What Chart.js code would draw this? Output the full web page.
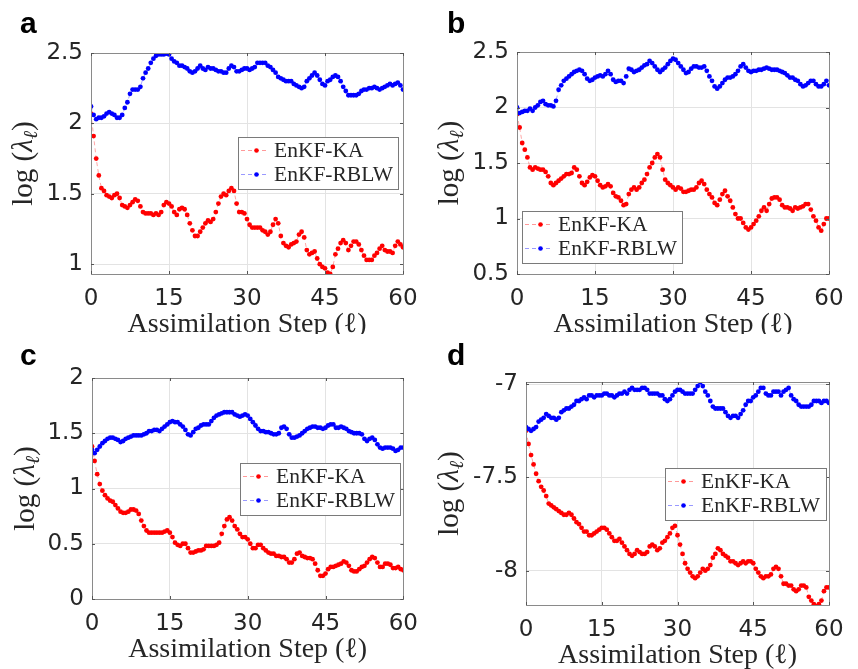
<!DOCTYPE html>
<html>
<head>
<meta charset="utf-8">
<script src="https://cdn.jsdelivr.net/npm/chart.js@4.4.1/dist/chart.umd.min.js"></script>
<style>
  html, body { margin: 0; padding: 0; background: #fff; }
  body { width: 858px; height: 669px; position: relative; overflow: hidden; }
  canvas { position: absolute; }
</style>
</head>
<body>
<canvas id="panelA" width="429" height="334" style="left:0;top:0"></canvas>
<canvas id="panelB" width="429" height="334" style="left:429px;top:0"></canvas>
<canvas id="panelC" width="429" height="335" style="left:0;top:334px"></canvas>
<canvas id="panelD" width="429" height="335" style="left:429px;top:334px"></canvas>
<script>
// --- Datos (un valor cada medio paso) ---
const seriesNames = ["EnKF-KA", "EnKF-RBLW"];
const xTicks = [0, 15, 30, 45, 60];
const steps = Array.from({ length: 121 }, (_, i) => i / 2);

const redA = [
  2.07, 1.91, 1.75, 1.63, 1.54, 1.52, 1.49, 1.48, 1.47, 1.49,
  1.50, 1.47, 1.42, 1.41, 1.40, 1.42, 1.44, 1.46, 1.45, 1.41,
  1.37, 1.36, 1.36, 1.36, 1.35, 1.36, 1.35, 1.37, 1.42, 1.44,
  1.43, 1.41, 1.37, 1.35, 1.39, 1.40, 1.39, 1.35, 1.29, 1.24,
  1.20, 1.20, 1.23, 1.26, 1.29, 1.31, 1.30, 1.32, 1.37, 1.43,
  1.48, 1.50, 1.49, 1.52, 1.54, 1.52, 1.43, 1.37, 1.37, 1.36,
  1.32, 1.28, 1.26, 1.26, 1.26, 1.26, 1.24, 1.23, 1.21, 1.23,
  1.28, 1.32, 1.29, 1.20, 1.15, 1.13, 1.12, 1.14, 1.15, 1.16,
  1.21, 1.23, 1.19, 1.10, 1.07, 1.08, 1.09, 1.04, 1.00, 0.98,
  0.97, 0.94, 0.93, 0.98, 1.07, 1.11, 1.15, 1.17, 1.15, 1.10,
  1.13, 1.16, 1.16, 1.14, 1.10, 1.06, 1.03, 1.03, 1.03, 1.06,
  1.08, 1.11, 1.13, 1.10, 1.09, 1.09, 1.08, 1.13, 1.16, 1.14, 1.12
];
const blueA = [
  2.12, 2.06, 2.03, 2.04, 2.04, 2.05, 2.07, 2.08, 2.07, 2.06,
  2.04, 2.04, 2.06, 2.11, 2.15, 2.21, 2.24, 2.24, 2.24, 2.26,
  2.32, 2.36, 2.39, 2.43, 2.46, 2.48, 2.49, 2.49, 2.49, 2.495,
  2.49, 2.46, 2.44, 2.43, 2.41, 2.41, 2.40, 2.39, 2.37, 2.36,
  2.37, 2.39, 2.41, 2.39, 2.38, 2.40, 2.39, 2.39, 2.38, 2.37,
  2.37, 2.36, 2.36, 2.39, 2.41, 2.40, 2.37, 2.37, 2.38, 2.39,
  2.39, 2.38, 2.39, 2.40, 2.43, 2.43, 2.43, 2.43, 2.41, 2.40,
  2.38, 2.36, 2.33, 2.32, 2.31, 2.30, 2.30, 2.30, 2.28, 2.27,
  2.26, 2.25, 2.26, 2.30, 2.32, 2.34, 2.36, 2.34, 2.31, 2.28,
  2.27, 2.30, 2.31, 2.33, 2.34, 2.33, 2.30, 2.26, 2.23, 2.20,
  2.20, 2.20, 2.20, 2.21, 2.23, 2.24, 2.24, 2.25, 2.25, 2.26,
  2.25, 2.24, 2.25, 2.26, 2.27, 2.28, 2.27, 2.28, 2.29, 2.27, 2.24
];
const yTicksA = [1, 1.5, 2, 2.5];

const redB = [
  1.94, 1.82, 1.68, 1.62, 1.55, 1.46, 1.44, 1.46, 1.45, 1.44,
  1.44, 1.42, 1.38, 1.32, 1.30, 1.32, 1.34, 1.36, 1.38, 1.40,
  1.40, 1.41, 1.46, 1.44, 1.38, 1.32, 1.30, 1.33, 1.37, 1.39,
  1.38, 1.34, 1.30, 1.28, 1.29, 1.31, 1.29, 1.23, 1.20, 1.19,
  1.16, 1.12, 1.13, 1.22, 1.26, 1.28, 1.26, 1.28, 1.32, 1.35,
  1.40, 1.46, 1.50, 1.55, 1.58, 1.55, 1.44, 1.35, 1.32, 1.30,
  1.28, 1.26, 1.28, 1.27, 1.24, 1.24, 1.25, 1.26, 1.26, 1.28,
  1.32, 1.34, 1.31, 1.26, 1.22, 1.19, 1.14, 1.12, 1.17, 1.22,
  1.25, 1.20, 1.16, 1.10, 1.04, 1.00, 1.00, 0.96, 0.92, 0.90,
  0.92, 0.95, 0.98, 1.02, 1.07, 1.10, 1.07, 1.13, 1.18, 1.19,
  1.19, 1.17, 1.12, 1.10, 1.10, 1.09, 1.07, 1.10, 1.09, 1.10,
  1.11, 1.13, 1.13, 1.08, 1.02, 0.98, 0.92, 0.89, 0.95, 1.00, 1.00
];
const blueB = [
  2.00, 1.95, 1.96, 1.97, 1.97, 1.99, 1.97, 2.00, 2.02, 2.05,
  2.06, 2.03, 2.02, 2.02, 2.01, 2.06, 2.16, 2.20, 2.24, 2.26,
  2.28, 2.30, 2.32, 2.33, 2.34, 2.33, 2.30, 2.26, 2.24, 2.25,
  2.27, 2.28, 2.29, 2.28, 2.30, 2.33, 2.30, 2.25, 2.23, 2.24,
  2.24, 2.22, 2.28, 2.35, 2.34, 2.32, 2.33, 2.34, 2.36, 2.38,
  2.39, 2.42, 2.40, 2.37, 2.34, 2.32, 2.34, 2.36, 2.39, 2.42,
  2.44, 2.43, 2.40, 2.37, 2.34, 2.31, 2.32, 2.35, 2.37, 2.37,
  2.36, 2.36, 2.37, 2.33, 2.28, 2.24, 2.19, 2.17, 2.19, 2.22,
  2.25, 2.27, 2.27, 2.28, 2.30, 2.33, 2.37, 2.39, 2.36, 2.33,
  2.32, 2.33, 2.33, 2.34, 2.34, 2.35, 2.36, 2.35, 2.34, 2.34,
  2.34, 2.33, 2.32, 2.31, 2.29, 2.27, 2.27, 2.25, 2.24, 2.21,
  2.19, 2.20, 2.22, 2.24, 2.24, 2.21, 2.19, 2.19, 2.21, 2.24, 2.20
];
const yTicksB = [0.5, 1, 1.5, 2, 2.5];

const redC = [
  1.38, 1.25, 1.13, 1.04, 0.98, 0.94, 0.91, 0.89, 0.88, 0.85,
  0.82, 0.79, 0.78, 0.78, 0.79, 0.81, 0.81, 0.80, 0.77, 0.71,
  0.66, 0.62, 0.60, 0.60, 0.60, 0.60, 0.60, 0.60, 0.61, 0.62,
  0.60, 0.56, 0.51, 0.49, 0.48, 0.50, 0.50, 0.46, 0.42, 0.42,
  0.43, 0.44, 0.44, 0.45, 0.48, 0.48, 0.48, 0.48, 0.49, 0.51,
  0.59, 0.66, 0.72, 0.74, 0.71, 0.66, 0.63, 0.59, 0.56, 0.56,
  0.54, 0.50, 0.46, 0.46, 0.49, 0.49, 0.46, 0.44, 0.42, 0.41,
  0.41, 0.39, 0.39, 0.38, 0.38, 0.36, 0.33, 0.33, 0.36, 0.41,
  0.42, 0.39, 0.38, 0.37, 0.37, 0.36, 0.32, 0.26, 0.21, 0.21,
  0.23, 0.27, 0.29, 0.29, 0.30, 0.31, 0.32, 0.34, 0.33, 0.30,
  0.26, 0.25, 0.25, 0.27, 0.29, 0.30, 0.33, 0.36, 0.38, 0.37,
  0.33, 0.29, 0.29, 0.32, 0.32, 0.31, 0.28, 0.28, 0.29, 0.27, 0.26
];
const blueC = [
  1.35, 1.32, 1.35, 1.38, 1.41, 1.43, 1.45, 1.46, 1.46, 1.45,
  1.44, 1.42, 1.43, 1.45, 1.46, 1.47, 1.48, 1.48, 1.48, 1.48,
  1.49, 1.50, 1.52, 1.52, 1.53, 1.53, 1.52, 1.54, 1.56, 1.58,
  1.60, 1.61, 1.60, 1.60, 1.58, 1.56, 1.53, 1.49, 1.48, 1.51,
  1.54, 1.55, 1.57, 1.58, 1.58, 1.58, 1.61, 1.64, 1.66, 1.67,
  1.68, 1.69, 1.69, 1.69, 1.69, 1.67, 1.66, 1.65, 1.66, 1.67,
  1.66, 1.63, 1.60, 1.57, 1.54, 1.52, 1.52, 1.51, 1.51, 1.50,
  1.49, 1.49, 1.50, 1.55, 1.56, 1.54, 1.49, 1.46, 1.46, 1.47,
  1.48, 1.50, 1.52, 1.54, 1.55, 1.56, 1.56, 1.55, 1.55, 1.54,
  1.55, 1.57, 1.58, 1.58, 1.55, 1.55, 1.56, 1.55, 1.54, 1.52,
  1.51, 1.50, 1.50, 1.50, 1.49, 1.45, 1.43, 1.45, 1.46, 1.44,
  1.40, 1.37, 1.36, 1.37, 1.37, 1.37, 1.36, 1.34, 1.35, 1.37, 1.37
];
const yTicksC = [0, 0.5, 1, 1.5, 2];

const redD = [
  -7.25, -7.32, -7.38, -7.43, -7.48, -7.52, -7.55, -7.57, -7.60, -7.64,
  -7.65, -7.66, -7.67, -7.68, -7.69, -7.70, -7.70, -7.69, -7.70, -7.72,
  -7.74, -7.75, -7.77, -7.79, -7.79, -7.81, -7.81, -7.80, -7.79, -7.78,
  -7.77, -7.77, -7.78, -7.80, -7.82, -7.84, -7.84, -7.83, -7.85, -7.87,
  -7.89, -7.91, -7.92, -7.91, -7.89, -7.90, -7.91, -7.91, -7.90, -7.87,
  -7.86, -7.87, -7.89, -7.88, -7.85, -7.84, -7.82, -7.80, -7.77, -7.76,
  -7.81, -7.86, -7.91, -7.96, -7.99, -8.01, -8.03, -8.04, -8.03, -8.01,
  -7.99, -8.00, -7.99, -7.97, -7.93, -7.91, -7.88, -7.89, -7.91, -7.92,
  -7.93, -7.95, -7.95, -7.96, -7.97, -7.96, -7.95, -7.96, -7.95, -7.95,
  -7.96, -7.99, -8.01, -8.03, -8.04, -8.03, -8.03, -8.02, -7.99, -7.98,
  -7.99, -8.03, -8.07, -8.07, -8.08, -8.08, -8.10, -8.11, -8.10, -8.08,
  -8.08, -8.09, -8.14, -8.16, -8.18, -8.19, -8.18, -8.16, -8.11, -8.09, -8.09
];
const blueD = [
  -7.23, -7.24, -7.25, -7.24, -7.23, -7.20, -7.19, -7.18, -7.16, -7.17,
  -7.18, -7.18, -7.19, -7.18, -7.15, -7.14, -7.13, -7.13, -7.12, -7.11,
  -7.09, -7.09, -7.08, -7.07, -7.08, -7.06, -7.06, -7.07, -7.06, -7.06,
  -7.06, -7.05, -7.05, -7.06, -7.06, -7.07, -7.06, -7.05, -7.05, -7.04,
  -7.05, -7.03, -7.02, -7.03, -7.03, -7.03, -7.02, -7.02, -7.03, -7.05,
  -7.05, -7.05, -7.05, -7.06, -7.06, -7.08, -7.09, -7.08, -7.06, -7.04,
  -7.03, -7.03, -7.04, -7.05, -7.05, -7.05, -7.05, -7.03, -7.01, -6.99,
  -7.01, -7.04, -7.06, -7.09, -7.12, -7.13, -7.13, -7.13, -7.13, -7.15,
  -7.17, -7.18, -7.17, -7.17, -7.18, -7.16, -7.14, -7.11, -7.09, -7.09,
  -7.07, -7.06, -7.04, -7.02, -7.02, -7.05, -7.06, -7.06, -7.04, -7.04,
  -7.04, -7.06, -7.04, -7.03, -7.02, -7.06, -7.08, -7.09, -7.11, -7.12,
  -7.12, -7.12, -7.12, -7.11, -7.09, -7.09, -7.09, -7.10, -7.09, -7.09, -7.10
];
const yTicksD = [-8, -7.5, -7];

// --- Estilo ---
const RED = "#ff0000";
const BLUE = "#0000ff";
const TEXT = "#262626";
const AXIS = "#8a8a8a";
const GRID = "#e3e3e3";
const SERIF = "'Liberation Serif', 'DejaVu Serif', serif";

// caja + ticks hacia adentro + leyenda + etiquetas
const decorPlugin = {
  id: "decor",
  afterDraw(chart, args, o) {
    const ctx = chart.ctx;
    const a = chart.chartArea;
    const xs = chart.scales.x, ys = chart.scales.y;
    ctx.save();

    // caja
    ctx.strokeStyle = AXIS;
    ctx.lineWidth = 1;
    ctx.strokeRect(Math.round(a.left) + 0.5, Math.round(a.top) + 0.5,
      Math.round(a.right - a.left), Math.round(a.bottom - a.top));

    // ticks hacia adentro
    ctx.strokeStyle = "#555";
    ctx.beginPath();
    xTicks.forEach(v => {
      const px = Math.round(xs.getPixelForValue(v)) + 0.5;
      ctx.moveTo(px, a.bottom); ctx.lineTo(px, a.bottom - 3);
      ctx.moveTo(px, a.top); ctx.lineTo(px, a.top + 3);
    });
    o.yTicks.forEach(v => {
      const py = Math.round(ys.getPixelForValue(v)) + 0.5;
      ctx.moveTo(a.left, py); ctx.lineTo(a.left + 3, py);
      ctx.moveTo(a.right, py); ctx.lineTo(a.right - 3, py);
    });
    ctx.stroke();

    // leyenda
    const lg = o.legend;
    ctx.fillStyle = "#fff";
    ctx.fillRect(lg.x, lg.y, lg.w, lg.h);
    ctx.strokeStyle = "#7a7a7a";
    ctx.strokeRect(Math.round(lg.x) + 0.5, Math.round(lg.y) + 0.5, Math.round(lg.w), Math.round(lg.h));
    const cols = [RED, BLUE];
    const fades = ["rgba(255,0,0,0.4)", "rgba(0,0,255,0.4)"];
    ctx.font = "21.5px " + SERIF;
    ctx.textBaseline = "middle";
    seriesNames.forEach((name, i) => {
      const cy = lg.y + (i === 0 ? 13.5 : 37.5);
      ctx.strokeStyle = fades[i];
      ctx.setLineDash([4, 3]);
      ctx.beginPath();
      ctx.moveTo(lg.x + 3, cy); ctx.lineTo(lg.x + 31, cy);
      ctx.stroke();
      ctx.setLineDash([]);
      ctx.fillStyle = cols[i];
      ctx.beginPath();
      ctx.arc(lg.x + 18.5, cy, 2.3, 0, Math.PI * 2);
      ctx.fill();
      ctx.fillStyle = TEXT;
      ctx.textAlign = "left";
      ctx.fillText(name, lg.x + 36, cy + 1);
    });

    // titulo eje x
    ctx.fillStyle = TEXT;
    ctx.font = "28px " + SERIF;
    ctx.textAlign = "center";
    ctx.textBaseline = "alphabetic";
    ctx.fillText("Assimilation Step (\u2113)", (a.left + a.right) / 2, a.bottom + 58);

    // titulo eje y: log (λ_ℓ)
    ctx.save();
    ctx.translate(o.yTitleX, (a.top + a.bottom) / 2);
    ctx.rotate(-Math.PI / 2);
    const fRoman = "29px " + SERIF;
    const fItal = "italic 29px " + SERIF;
    const fSub = "italic 20px " + SERIF;
    const parts = [
      { t: "log", f: fRoman, dy: 0 },
      { t: " (", f: fRoman, dy: 0 },
      { t: "\u03bb", f: fItal, dy: 0 },
      { t: "\u2113", f: fSub, dy: 5 },
      { t: ")", f: fRoman, dy: 0 }
    ];
    let total = 0;
    parts.forEach(p => { ctx.font = p.f; p.w = ctx.measureText(p.t).width; total += p.w; });
    let cx = -total / 2;
    ctx.textAlign = "left";
    parts.forEach(p => {
      ctx.font = p.f;
      ctx.fillText(p.t, cx, p.dy);
      cx += p.w;
    });
    ctx.restore();

    // letra del panel
    ctx.fillStyle = "#000";
    ctx.font = "bold 30px 'Liberation Sans', Arial, sans-serif";
    ctx.textAlign = "left";
    ctx.textBaseline = "alphabetic";
    ctx.fillText(o.letter, o.letterX, o.letterY);

    ctx.restore();
  }
};

function crearPanel(cfg) {
  const canvas = document.getElementById(cfg.id);
  const W = canvas.width, H = canvas.height;
  const area = cfg.area;

  const toPoints = arr => arr.map((v, i) => ({ x: steps[i], y: v }));

  new Chart(canvas, {
    type: "line",
    data: {
      datasets: [
        {
          label: seriesNames[0],
          data: toPoints(cfg.red),
          borderColor: "rgba(255,0,0,0.35)",
          borderWidth: 1,
          borderDash: [4, 3],
          pointRadius: 2.4,
          pointBackgroundColor: RED,
          pointBorderWidth: 0,
          order: 1
        },
        {
          label: seriesNames[1],
          data: toPoints(cfg.blue),
          borderColor: "rgba(0,0,255,0.35)",
          borderWidth: 1,
          borderDash: [4, 3],
          pointRadius: 2.4,
          pointBackgroundColor: BLUE,
          pointBorderWidth: 0,
          order: 0
        }
      ]
    },
    options: {
      responsive: false,
      animation: false,
      events: [],
      layout: { padding: { left: 0, top: area.top, right: W - area.right, bottom: 0 } },
      plugins: {
        legend: { display: false },
        tooltip: { enabled: false },
        decor: {
          yTicks: cfg.yTicks,
          legend: cfg.legend,
          letter: cfg.letter,
          letterX: cfg.letterX,
          letterY: cfg.letterY,
          yTitleX: cfg.yTitleX
        }
      },
      scales: {
        x: {
          type: "linear",
          min: 0,
          max: 60,
          afterBuildTicks: s => { s.ticks = xTicks.map(v => ({ value: v })); },
          afterFit: s => { s.height = H - area.bottom; },
          grid: { color: GRID, drawTicks: false },
          border: { display: false },
          ticks: {
            padding: 11,
            color: TEXT,
            font: { family: "'DejaVu Sans'", size: 23 },
            callback: v => String(v)
          }
        },
        y: {
          type: "linear",
          min: cfg.yMin,
          max: cfg.yMax,
          afterBuildTicks: s => { s.ticks = cfg.yTicks.map(v => ({ value: v })); },
          afterFit: s => { s.width = area.left; },
          grid: { color: GRID, drawTicks: false },
          border: { display: false },
          ticks: {
            padding: 8,
            color: TEXT,
            font: { family: "'DejaVu Sans'", size: 23 },
            callback: v => String(v)
          }
        }
      }
    },
    plugins: [decorPlugin]
  });
}

crearPanel({
  id: "panelA", red: redA, blue: blueA, yTicks: yTicksA, yMin: 0.93, yMax: 2.5,
  area: { left: 91, right: 403, top: 53, bottom: 274 },
  legend: { x: 238, y: 137, w: 160, h: 52 },
  letter: "a", letterX: 20, letterY: 33, yTitleX: 32
});
crearPanel({
  id: "panelB", red: redB, blue: blueB, yTicks: yTicksB, yMin: 0.5, yMax: 2.5,
  area: { left: 88, right: 400, top: 52, bottom: 274 },
  legend: { x: 93, y: 211, w: 160, h: 52 },
  letter: "b", letterX: 18, letterY: 33, yTitleX: 29
});
crearPanel({
  id: "panelC", red: redC, blue: blueC, yTicks: yTicksC, yMin: 0, yMax: 2,
  area: { left: 92, right: 404, top: 44, bottom: 265 },
  legend: { x: 240, y: 129, w: 160, h: 52 },
  letter: "c", letterX: 20, letterY: 31, yTitleX: 34
});
crearPanel({
  id: "panelD", red: redD, blue: blueD, yTicks: yTicksD, yMin: -8.184, yMax: -6.988,
  area: { left: 97, right: 400, top: 48, bottom: 271 },
  legend: { x: 236, y: 134, w: 161, h: 52 },
  letter: "d", letterX: 18, letterY: 31, yTitleX: 29
});
</script>
</body>
</html>
